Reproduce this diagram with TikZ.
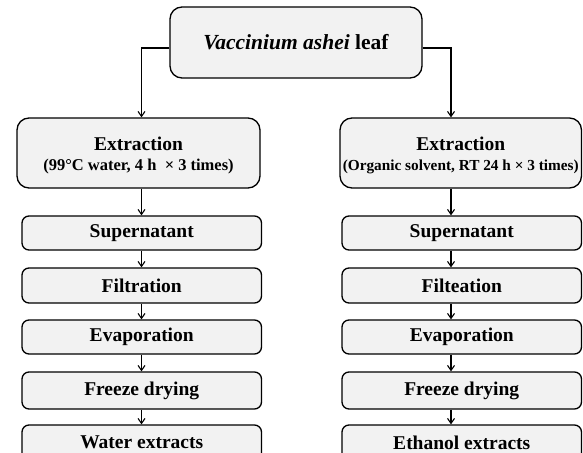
\documentclass[tikz,border=0pt]{standalone}
\usepackage{fontspec}
\setmainfont{Liberation Serif}
\usetikzlibrary{arrows.meta}
\definecolor{boxgray}{HTML}{F2F2F2}
\begin{document}
\begin{tikzpicture}[x=1pt,y=-1pt,
  box/.style={draw=black, line width=1.3pt, fill=boxgray, rounded corners=7pt,
    inner sep=0pt, align=center, font=\bfseries\fontsize{19.5}{20}\selectfont},
  bigbox/.style={box, rounded corners=12pt},
  smallbox/.style={box, minimum width=239.5pt},
  arr/.style={line width=1.1pt, -{Straight Barb[length=5pt,width=7pt]}}]
\useasboundingbox (0,0) rectangle (583,452);
\clip (0,0) rectangle (583,452);
\fill[white] (0,0) rectangle (583,452);

% title
\node[bigbox, minimum width=252pt, minimum height=71pt, font=\bfseries\fontsize{21.5}{24}\selectfont]
  (top) at (296,42.5) {{\itshape Vaccinium ashei} leaf};

% extraction boxes
\node[bigbox, minimum width=243pt, minimum height=70pt] (e1) at (138.5,153)
  {\rule{0pt}{19pt}Extraction\\{\fontsize{16.5}{20}\selectfont (99°C water, 4 h \ × 3 times)}};
\node[bigbox, minimum width=241.5pt, minimum height=70pt] (e2) at (460.75,153)
  {\rule{0pt}{19pt}Extraction\\{\fontsize{15.3}{20}\selectfont (Organic solvent, RT 24 h × 3 times)}};

% left column
\node[smallbox, minimum height=34pt] (s1) at (141.75,233) {Supernatant};
\node[smallbox, minimum height=35pt] (f1) at (141.75,285.5) {Filtration};
\node[smallbox, minimum height=34pt] (v1) at (141.75,337) {Evaporation};
\node[smallbox, minimum height=37pt] (d1) at (141.75,390.5) {Freeze drying};
\node[smallbox, minimum height=45pt, text depth=10pt] (w1) at (141.75,447.5) {Water extracts};

% right column
\node[smallbox, minimum height=34pt] (s2) at (461.75,233) {Supernatant};
\node[smallbox, minimum height=35pt] (f2) at (461.75,285.5) {Filteation};
\node[smallbox, minimum height=34pt] (v2) at (461.75,337) {Evaporation};
\node[smallbox, minimum height=37pt] (d2) at (461.75,390.5) {Freeze drying};
\node[smallbox, minimum height=45pt, text depth=10pt] (w2) at (461.75,447.5) {Ethanol extracts};

% arrow guide coordinates
\coordinate (lx) at (141.5,0);
\coordinate (rx) at (451,0);

% connectors from title
\draw[arr] ([yshift=-5.5pt]top.west) -| (lx |- e1.north);
\draw[arr] ([yshift=-5.5pt]top.east) -| (rx |- e2.north);

% left chain
\draw[arr] (lx |- e1.south) -- (lx |- s1.north);
\draw[arr] (lx |- s1.south) -- (lx |- f1.north);
\draw[arr] (lx |- f1.south) -- (lx |- v1.north);
\draw[arr] (lx |- v1.south) -- (lx |- d1.north);
\draw[arr] (lx |- d1.south) -- (lx |- w1.north);

% right chain
\draw[arr] (rx |- e2.south) -- (rx |- s2.north);
\draw[arr] (rx |- s2.south) -- (rx |- f2.north);
\draw[arr] (rx |- f2.south) -- (rx |- v2.north);
\draw[arr] (rx |- v2.south) -- (rx |- d2.north);
\draw[arr] (rx |- d2.south) -- (rx |- w2.north);
\end{tikzpicture}
\end{document}
